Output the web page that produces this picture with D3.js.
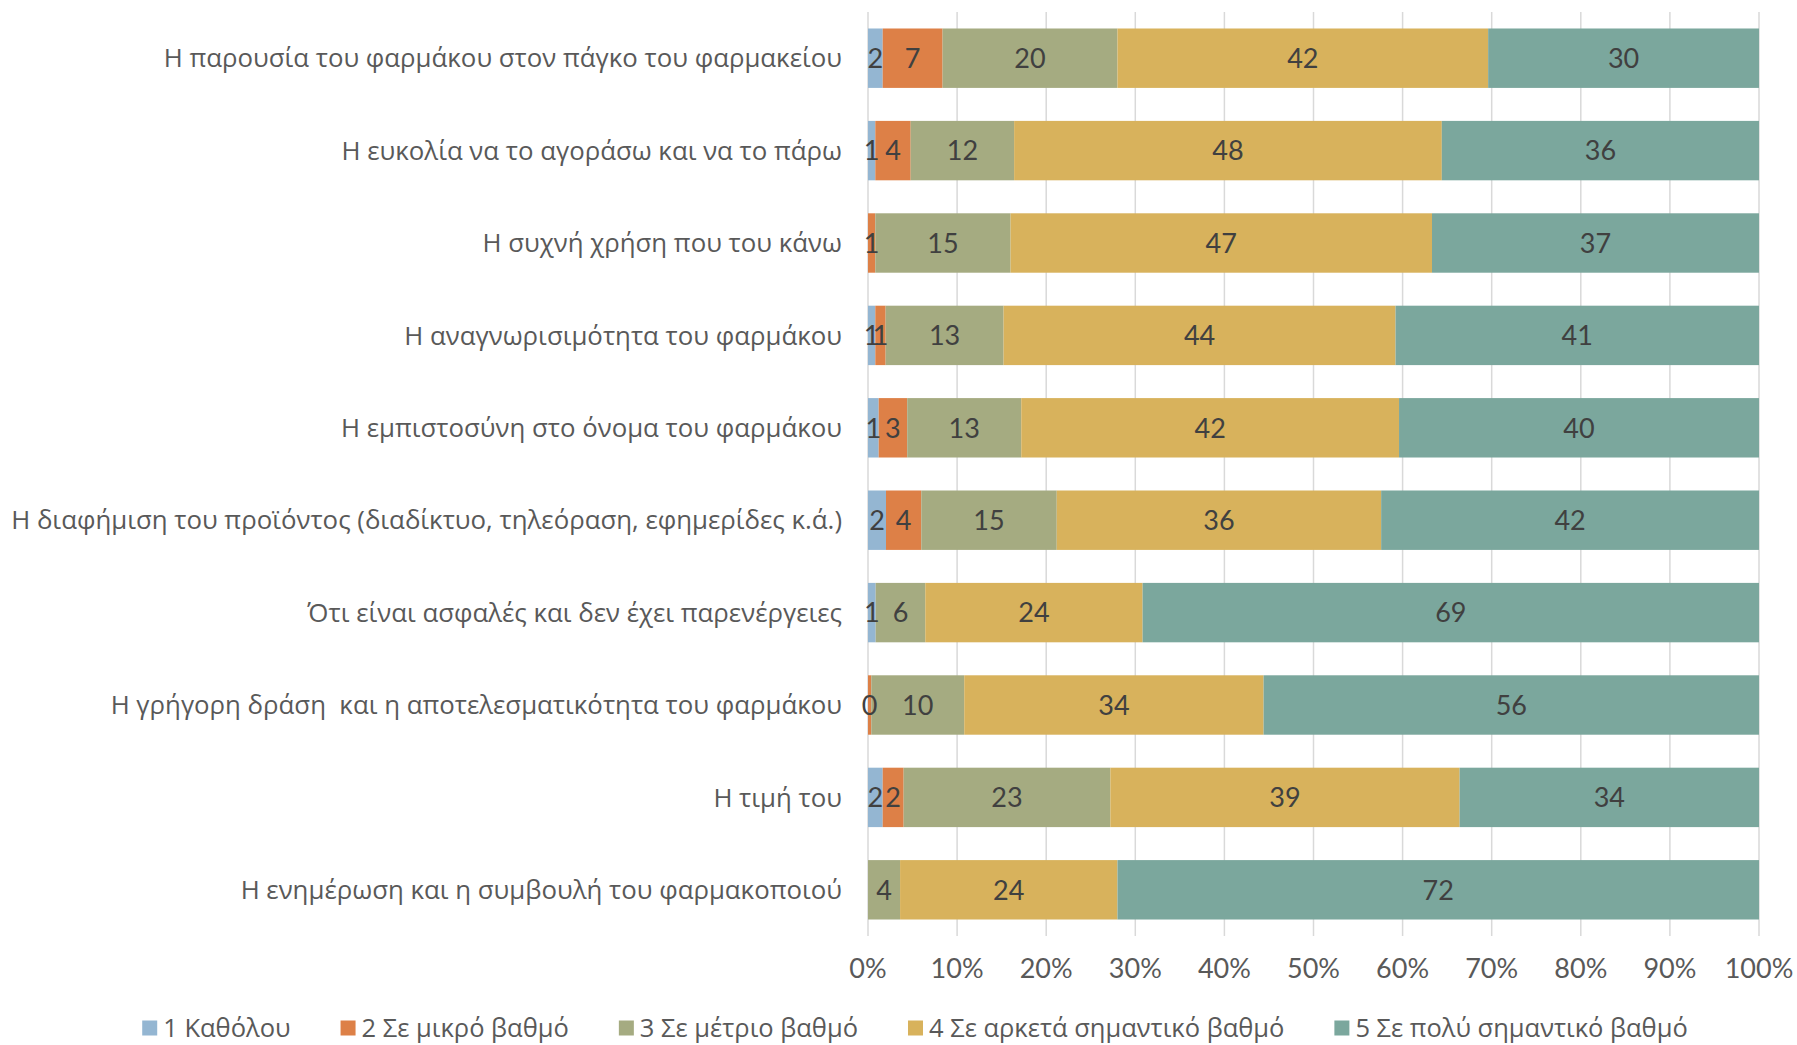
<!DOCTYPE html>
<html>
<head>
<meta charset="utf-8">
<script src="https://cdn.jsdelivr.net/npm/d3@7"></script>
<style>
  html, body { margin: 0; padding: 0; background: #fff; }
  svg { display: block; }
  text.cat { white-space: pre; }
</style>
</head>
<body>
<svg></svg>
<script>
'use strict';

const svgWidth = 1797;
const svgHeight = 1045;

// categories, top to bottom
const categories = [
  'Η παρουσία του φαρμάκου στον πάγκο του φαρμακείου',
  'Η ευκολία να το αγοράσω και να το πάρω',
  'Η συχνή χρήση που του κάνω',
  'Η αναγνωρισιμότητα του φαρμάκου',
  'Η εμπιστοσύνη στο όνομα του φαρμάκου',
  'Η διαφήμιση του προϊόντος (διαδίκτυο, τηλεόραση, εφημερίδες κ.ά.)',
  'Ότι είναι ασφαλές και δεν έχει παρενέργειες',
  'Η γρήγορη δράση  και η αποτελεσματικότητα του φαρμάκου',
  'Η τιμή του',
  'Η ενημέρωση και η συμβουλή του φαρμακοποιού'
];

const seriesNames = [
  '1 Καθόλου',
  '2 Σε μικρό βαθμό',
  '3 Σε μέτριο βαθμό',
  '4 Σε αρκετά σημαντικό βαθμό',
  '5 Σε πολύ σημαντικό βαθμό'
];

// percentages (null = no answer in that category, no label)
const s1 = [1.65, 0.82, null, 0.82, 1.2, 2.02, 0.86, null, 1.65, null];
const s2 = [6.72, 3.97, 0.82, 1.16, 3.2, 3.96, null, 0.37, 2.35, null];
const s3 = [19.63, 11.61, 15.18, 13.24, 12.8, 15.2, 5.57, 10.43, 23.2, 3.6];
const s4 = [41.6, 48.0, 47.3, 44.0, 42.4, 36.4, 24.4, 33.6, 39.2, 24.4];
const s5 = [30.4, 35.6, 36.7, 40.8, 40.4, 42.4, 69.2, 55.6, 33.6, 72.0];

const xTicks = [0, 10, 20, 30, 40, 50, 60, 70, 80, 90, 100];

const colors = ['#94B6D2', '#DD8047', '#A5AB81', '#D8B25C', '#7BA79D'];

const svg = d3.select('svg')
  .attr('width', svgWidth)
  .attr('height', svgHeight);

const allSeries = [s1, s2, s3, s4, s5];

// rows in percent of each row total (100% stacked)
let rows = categories.map((c, i) => {
  let row = { cat: c };
  let total = d3.sum(allSeries, s => s[i] || 0);
  seriesNames.forEach((k, j) => {
    row[k] = (allSeries[j][i] || 0) / total * 100;
    row['raw_' + k] = allSeries[j][i];
  });
  return row;
});

const plot = { left: 868, right: 1759, top: 12, bottom: 936 };

let x = d3.scaleLinear()
  .domain([0, 100])
  .range([plot.left, plot.right]);

let y = d3.scaleBand()
  .domain(categories)
  .range([plot.top, plot.bottom])
  .paddingInner(0.357)
  .paddingOuter(0.357 / 2);

// gridlines
svg.append('g')
  .attr('stroke', '#d9d9d9')
  .attr('stroke-width', 1.5)
  .selectAll('line')
  .data(xTicks)
  .join('line')
  .attr('x1', d => x(d))
  .attr('x2', d => x(d))
  .attr('y1', plot.top)
  .attr('y2', plot.bottom);

let stacked = d3.stack().keys(seriesNames)(rows);

let barsG = svg.append('g');

let layer = barsG.selectAll('g')
  .data(stacked)
  .join('g')
  .attr('fill', (d, i) => colors[i]);

layer.selectAll('rect')
  .data(d => d)
  .join('rect')
  .attr('x', d => x(d[0]))
  .attr('width', d => x(d[1]) - x(d[0]))
  .attr('y', d => y(d.data.cat))
  .attr('height', y.bandwidth());

// data labels
let labelsG = svg.append('g')
  .attr('font-family', 'Lato, "Open Sans", sans-serif')
  .attr('font-size', 27)
  .attr('fill', '#404040')
  .attr('text-anchor', 'middle');

stacked.forEach(s => {
  labelsG.selectAll('text.k' + s.index)
    .data(s.filter(d => d.data['raw_' + s.key] != null))
    .join('text')
    .attr('class', 'k' + s.index)
    .attr('x', d => (x(d[0]) + x(d[1])) / 2)
    .attr('y', d => y(d.data.cat) + y.bandwidth() / 2)
    .attr('dy', '0.36em')
    .text(d => d3.format('.0f')(d.data['raw_' + s.key]));
});

// category axis labels
svg.append('g')
  .attr('font-family', '"Open Sans", sans-serif')
  .attr('font-size', 25.8)
  .attr('fill', '#595959')
  .attr('text-anchor', 'end')
  .selectAll('text')
  .data(categories)
  .join('text')
  .attr('class', 'cat')
  .attr('xml:space', 'preserve')
  .attr('x', 842)
  .attr('y', d => y(d) + y.bandwidth() / 2)
  .attr('dy', '0.36em')
  .text(d => d);

// x axis tick labels
svg.append('g')
  .attr('font-family', 'Lato, "Open Sans", sans-serif')
  .attr('font-size', 27)
  .attr('fill', '#595959')
  .attr('text-anchor', 'middle')
  .selectAll('text')
  .data(xTicks)
  .join('text')
  .attr('x', d => x(d))
  .attr('y', 978)
  .text(d => d + '%');

// legend
let legendG = svg.append('g')
  .attr('font-family', '"Open Sans", sans-serif')
  .attr('font-size', 25.5)
  .attr('fill', '#595959');

let items = legendG.selectAll('g')
  .data(seriesNames)
  .join('g');

items.append('rect')
  .attr('width', 15)
  .attr('height', 15)
  .attr('y', 1020.5)
  .attr('fill', (d, i) => colors[i]);

items.append('text')
  .attr('x', 21)
  .attr('y', 1028)
  .attr('dy', '0.34em')
  .text(d => d);

let offsets = [];
let cursor = 0;
items.each(function () {
  offsets.push(cursor);
  cursor += this.getBBox().width + 50;
});
let totalWidth = cursor - 50;
let legendStart = 915 - totalWidth / 2;
items.attr('transform', (d, i) => `translate(${legendStart + offsets[i]},0)`);
</script>
</body>
</html>
